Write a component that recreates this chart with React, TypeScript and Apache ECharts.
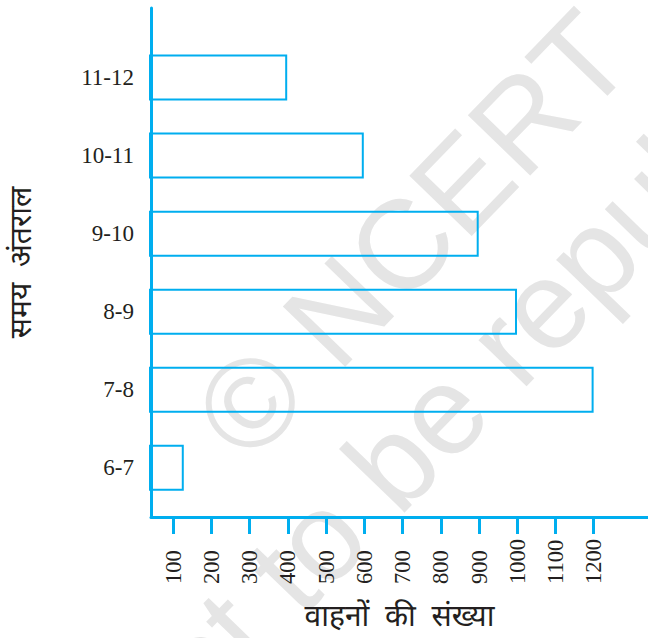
import React, { useEffect, useRef } from 'react';
import * as echarts from 'echarts';

// ---- data ----
const categories: string[] = ['6-7', '7-8', '8-9', '9-10', '10-11', '11-12'];
const vehicles: number[] = [130, 1200, 1000, 900, 600, 400];
const tickValues: number[] = [100, 200, 300, 400, 500, 600, 700, 800, 900, 1000, 1100, 1200];
const xAxisTitle = 'वाहनों  की  संख्या';
const yAxisTitle = 'समय  अंतराल';
const watermarkLine1 = '© NCERT';
const watermarkLine2 = 'not to be republished';

// ---- styles ----
const CYAN = '#00aeef';
const TEXT = '#231f20';
const SERIF = "'Liberation Serif', 'Times New Roman', serif";
const DEVA = "'Noto Sans Devanagari', 'Noto Serif Devanagari', 'Lohit Devanagari', sans-serif";
const WM_FONT = "'Liberation Sans', Arial, sans-serif";
const X_MIN = 41.8;
const X_MAX = 1342;

export default function App() {
  const ref = useRef<HTMLDivElement>(null);

  useEffect(() => {
    if (!ref.current) return;
    const chart = echarts.init(ref.current, undefined, { renderer: 'svg' });
    const rot = (46 * Math.PI) / 180;
    const option: any = {
      animation: false,
      backgroundColor: '#ffffff',
      grid: [
        { left: 150, right: 0, top: 8, bottom: 113 },
        { left: 150, right: 0, top: 38.5, bottom: 131.2 },
      ],
      xAxis: [
        {
          gridIndex: 0,
          type: 'value',
          min: X_MIN,
          max: X_MAX,
          axisLine: { show: true, onZero: false, lineStyle: { color: CYAN, width: 3 } },
          axisTick: {
            show: true,
            length: 17,
            customValues: tickValues,
            lineStyle: { color: CYAN, width: 3 },
          },
          axisLabel: {
            show: true,
            customValues: tickValues,
            formatter: (v: number) => String(v),
            rotate: 90,
            align: 'left',
            verticalAlign: 'middle',
            margin: 67,
            fontFamily: SERIF,
            fontSize: 22.5,
            color: TEXT,
          },
          splitLine: { show: false },
          name: xAxisTitle,
          nameLocation: 'middle',
          nameGap: 86,
          nameTextStyle: { fontFamily: DEVA, fontSize: 30, color: TEXT },
        },
        { gridIndex: 1, type: 'value', min: X_MIN, max: X_MAX, show: false },
      ],
      yAxis: [
        {
          gridIndex: 0,
          type: 'value',
          min: 0,
          max: 1,
          axisLine: { show: true, onZero: false, lineStyle: { color: CYAN, width: 3 } },
          axisTick: { show: false },
          axisLabel: { show: false },
          splitLine: { show: false },
          name: yAxisTitle,
          nameLocation: 'middle',
          nameRotate: 90,
          nameGap: 113,
          nameTextStyle: { fontFamily: DEVA, fontSize: 30, color: TEXT },
        },
        {
          gridIndex: 1,
          type: 'category',
          data: categories,
          axisLine: { show: false },
          axisTick: { show: false },
          axisLabel: { margin: 16, fontFamily: SERIF, fontSize: 23, color: TEXT },
          splitLine: { show: false },
        },
      ],
      series: [
        {
          type: 'bar',
          xAxisIndex: 1,
          yAxisIndex: 1,
          data: vehicles,
          barWidth: 46,
          clip: true,
          itemStyle: { color: 'rgba(255,255,255,0)', borderColor: CYAN, borderWidth: 2 },
          emphasis: { disabled: true },
        },
      ],
      graphic: [
        {
          type: 'text',
          x: 218,
          y: 436,
          rotation: rot,
          z: -1,
          silent: true,
          style: {
            text: watermarkLine1,
            fontFamily: WM_FONT,
            fontSize: 126,
            fill: '#e5e5e5',
            align: 'left',
            verticalAlign: 'middle',
          },
        },
        {
          type: 'text',
          x: 124,
          y: 740,
          rotation: rot,
          z: -1,
          silent: true,
          style: {
            text: watermarkLine2,
            fontFamily: WM_FONT,
            fontSize: 126,
            fill: '#e5e5e5',
            align: 'left',
            verticalAlign: 'middle',
          },
        },
      ],
    };
    chart.setOption(option);
    return () => chart.dispose();
  }, []);

  return (
    <div
      ref={ref}
      style={{ position: 'fixed', left: 0, top: 0, width: 648, height: 638, background: '#fff' }}
    />
  );
}
